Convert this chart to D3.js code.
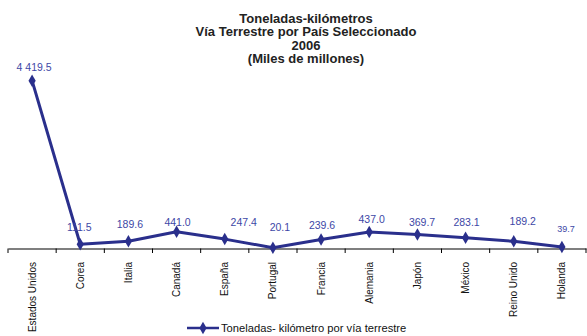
<!DOCTYPE html>
<html><head><meta charset="utf-8">
<script src="https://cdn.jsdelivr.net/npm/d3@7"></script>
<style>body{margin:0;background:#fff}svg{display:block}</style>
</head><body>
<svg id="c" width="587" height="336"></svg>
<script>
const categories = ["Estados Unidos","Corea","Italia","Canadá","España","Portugal","Francia","Alemania","Japón","México","Reino Unido","Holanda"];
const values = [4419.5,111.5,189.6,441.0,247.4,20.1,239.6,437.0,369.7,283.1,189.2,39.7];
const valueLabels = ["4 419.5","111.5","189.6","441.0","247.4","20.1","239.6","437.0","369.7","283.1","189.2","39.7"];
const titleLines = ["Toneladas-kilómetros","Vía Terrestre por País Seleccionado","2006","(Miles de millones)"];
const seriesName = "Toneladas- kilómetro por vía terrestre";
// label placement nudges relative to each point [dx, dy]
const labelNudge = [[2,-10],[-1,-13.5],[1.5,-13.3],[1,-6],[19,-13.4],[7,-17],[1,-10.4],[2.4,-8.6],[4.6,-8.5],[1,-11.7],[9,-16.3],[4,-15]];

const svg = d3.select("#c");
const lineColor = "#2a2f8c", labelColor = "#3d47a6";
const font = "Liberation Sans, Arial, sans-serif";
const x = d3.scaleBand().domain(categories).range([8, 586]);
const y = d3.scaleLinear().domain([0, 4419.5]).range([248.5, 80.7]);

// title
svg.append("g").selectAll("text").data(titleLines).join("text")
  .attr("x", 306).attr("y", (d,i)=>23 + i*13.3)
  .attr("text-anchor","middle").attr("font-family",font)
  .attr("font-weight","bold").attr("font-size","13px").attr("fill","#222")
  .text(d=>d);

// axis
const axis = d3.axisBottom(x).tickSize(0).tickFormat("");
const ag = svg.append("g").attr("transform","translate(0,248.5)").call(axis);
ag.select(".domain").attr("stroke","#000").attr("stroke-width",1.2);
const bounds = categories.map(c=>x(c)).concat([586]);
svg.append("g").selectAll("line").data(bounds).join("line")
  .attr("x1",d=>d).attr("x2",d=>d).attr("y1",248.5).attr("y2",253)
  .attr("stroke","#000").attr("stroke-width",1);

// category labels
svg.append("g").selectAll("text").data(categories).join("text")
  .attr("transform", d=>`translate(${x(d)+x.bandwidth()/2+3.5},262) rotate(-90)`)
  .attr("text-anchor","end").attr("font-family",font)
  .attr("font-size","10px").attr("fill","#111").text(d=>d);

// line
const cx = (d,i)=>x(categories[i])+x.bandwidth()/2;
const line = d3.line().x(cx).y(d=>y(d));
svg.append("path").datum(values).attr("d",line)
  .attr("fill","none").attr("stroke",lineColor).attr("stroke-width",3).attr("stroke-linejoin","round");
const diamond = d3.symbol().type(d3.symbolDiamond).size(45);
svg.append("g").selectAll("path").data(values).join("path")
  .attr("transform",(d,i)=>`translate(${cx(d,i)},${y(d)})`).attr("d",diamond).attr("fill",lineColor);

// value labels
svg.append("g").selectAll("text").data(values).join("text")
  .attr("x",(d,i)=>cx(d,i)+labelNudge[i][0]).attr("y",(d,i)=>y(d)+labelNudge[i][1])
  .attr("text-anchor","middle").attr("font-family",font)
  .attr("font-size",(d,i)=> i===11 ? "9px" : "10.5px").attr("fill",labelColor)
  .text((d,i)=>valueLabels[i]);

// legend
const lg = svg.append("g").attr("transform","translate(187,328)");
lg.append("line").attr("x1",0).attr("x2",32).attr("stroke",lineColor).attr("stroke-width",2.5);
lg.append("path").attr("transform","translate(16,0)").attr("d",diamond).attr("fill",lineColor);
lg.append("text").attr("x",34).attr("y",4).attr("font-family",font)
  .attr("font-size","11.2px").attr("fill","#111").text(seriesName);
</script>
</body></html>
